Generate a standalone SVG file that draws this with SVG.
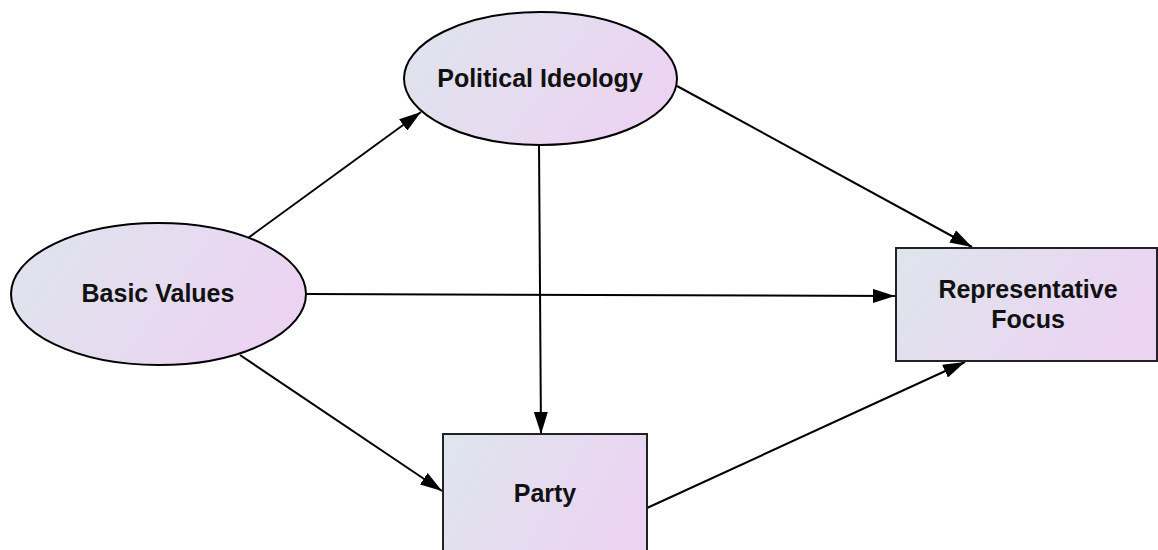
<svg xmlns="http://www.w3.org/2000/svg" width="1158" height="550" viewBox="0 0 1158 550">
  <defs>
    <linearGradient id="nodeFill" x1="0" y1="0" x2="1" y2="0.35">
      <stop offset="0" stop-color="#dee5ec"/>
      <stop offset="1" stop-color="#ebd4f2"/>
    </linearGradient>
    <marker id="arrow" markerUnits="userSpaceOnUse" markerWidth="22" markerHeight="14" refX="22" refY="7" orient="auto">
      <path d="M0,0 L22,7 L0,14 z" fill="#000"/>
    </marker>
  </defs>
  <style>
    .node { fill: url(#nodeFill); stroke: #000; stroke-width: 2; }
    .rect { stroke: #222; }
    .label { font-family: "Liberation Sans", Arial, sans-serif; font-weight: bold; font-size: 25px; fill: #111; text-anchor: middle; }
    .edge { stroke: #000; stroke-width: 2; fill: none; marker-end: url(#arrow); }
  </style>
  <rect width="1158" height="550" fill="#fff"/>

  <g id="connectors">
    <line class="edge" x1="248" y1="238" x2="421" y2="112"/>
    <line class="edge" x1="307" y1="294" x2="895" y2="296"/>
    <line class="edge" x1="240" y1="355" x2="442" y2="491"/>
    <line class="edge" x1="539" y1="145" x2="541" y2="434"/>
    <line class="edge" x1="677" y1="86" x2="972" y2="247"/>
    <line class="edge" x1="647" y1="508" x2="965" y2="362"/>
  </g>

  <g id="political-ideology">
    <ellipse class="node" cx="540.5" cy="78.5" rx="136.5" ry="66.5"/>
    <text class="label" x="540" y="87">Political Ideology</text>
  </g>

  <g id="basic-values">
    <ellipse class="node" cx="158.5" cy="294" rx="147.5" ry="71"/>
    <text class="label" x="158" y="302">Basic Values</text>
  </g>

  <g id="representative-focus">
    <rect class="node rect" x="896" y="248" width="261" height="113"/>
    <text class="label" x="1028" y="298">Representative</text>
    <text class="label" x="1028" y="328">Focus</text>
  </g>

  <g id="party">
    <rect class="node rect" x="443" y="434" width="204" height="130"/>
    <text class="label" x="545" y="502">Party</text>
  </g>
</svg>
